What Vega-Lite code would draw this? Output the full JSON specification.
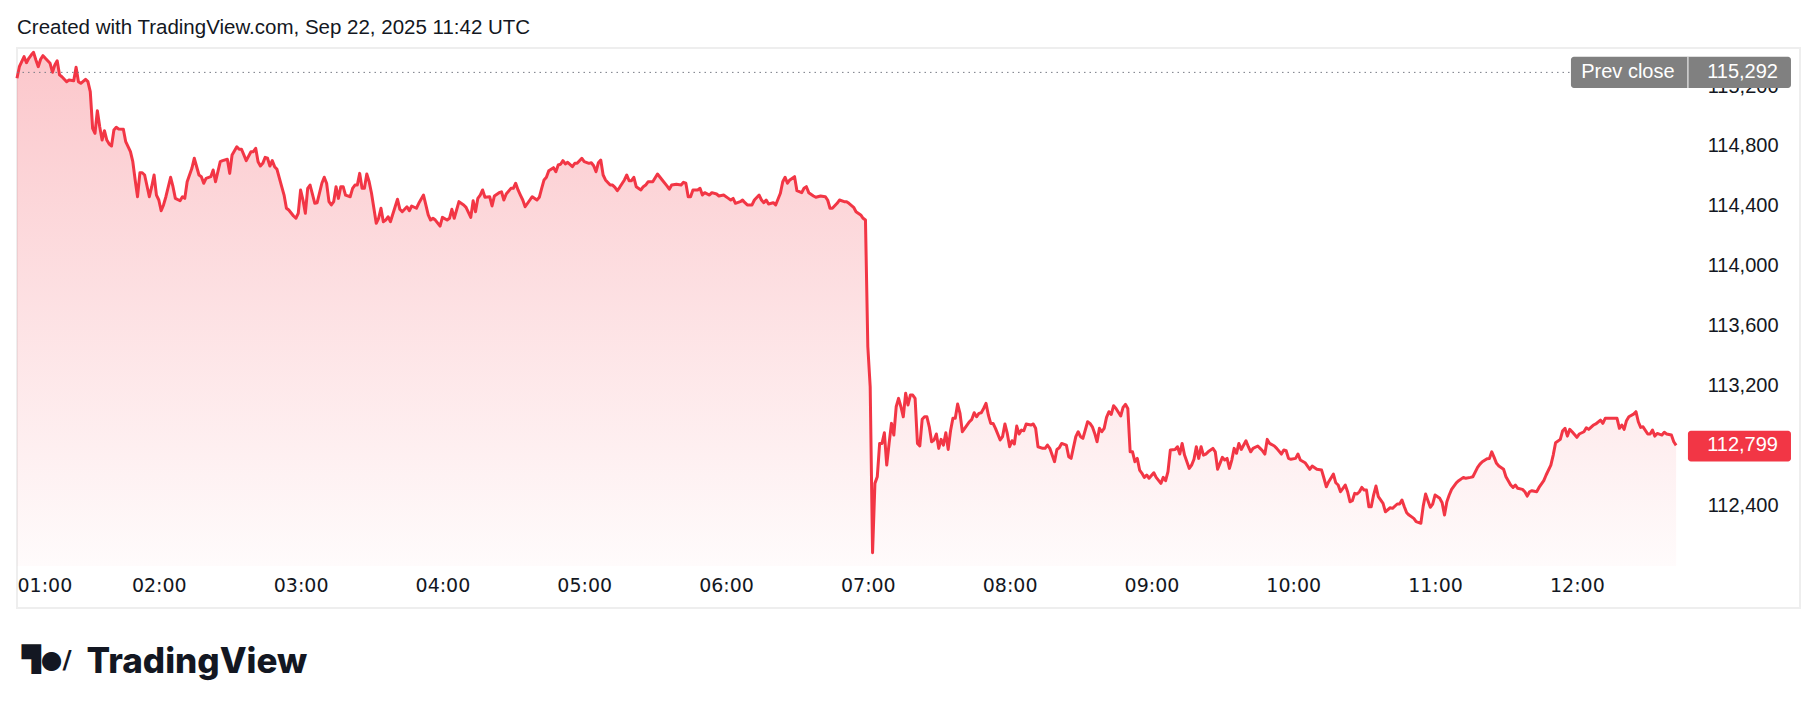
{
"$schema": "https://vega.github.io/schema/vega-lite/v6.json",
"width": 1783, "height": 560,
"autosize": {"type": "none"},
"padding": {"left": 17, "top": 48, "right": 18, "bottom": 105},
"background": "white",
"config": {"view": {"stroke": "#EEEEEE", "strokeWidth": 2}, "font": "Liberation Sans"},
"title": {"text": "Created with TradingView.com, Sep 22, 2025 11:42 UTC", "anchor": "start", "frame": "group", "font": "Liberation Sans", "fontSize": 20.5, "fontWeight": "normal", "color": "#131722", "baseline": "alphabetic", "offset": -6},
"data": {"format": {"parse": {"t": "date:'%H:%M'"}}, "values": [
{"t":"01:00","p":115253},{"t":"01:01","p":115330},{"t":"01:03","p":115397},{"t":"01:04","p":115357},{"t":"01:05","p":115386},{"t":"01:06","p":115408},{"t":"01:07","p":115426},{"t":"01:08","p":115375},{"t":"01:09","p":115330},{"t":"01:10","p":115380},{"t":"01:11","p":115404},{"t":"01:12","p":115386},{"t":"01:14","p":115353},{"t":"01:15","p":115293},{"t":"01:16","p":115341},{"t":"01:17","p":115370},{"t":"01:18","p":115275},{"t":"01:19","p":115263},{"t":"01:21","p":115230},{"t":"01:22","p":115241},{"t":"01:24","p":115236},{"t":"01:25","p":115326},{"t":"01:26","p":115230},{"t":"01:27","p":115219},{"t":"01:29","p":115246},{"t":"01:30","p":115230},{"t":"01:31","p":115163},{"t":"01:32","p":114918},{"t":"01:33","p":114885},{"t":"01:34","p":115036},{"t":"01:35","p":114929},{"t":"01:36","p":114840},{"t":"01:37","p":114902},{"t":"01:38","p":114840},{"t":"01:39","p":114813},{"t":"01:40","p":114800},{"t":"01:41","p":114907},{"t":"01:42","p":114925},{"t":"01:43","p":114914},{"t":"01:45","p":114912},{"t":"01:46","p":114829},{"t":"01:48","p":114762},{"t":"01:49","p":114695},{"t":"01:50","p":114573},{"t":"01:51","p":114461},{"t":"01:52","p":114621},{"t":"01:53","p":114621},{"t":"01:54","p":114606},{"t":"01:56","p":114461},{"t":"01:57","p":114528},{"t":"01:58","p":114606},{"t":"01:59","p":114472},
{"t":"02:00","p":114439},{"t":"02:01","p":114367},{"t":"02:02","p":114406},{"t":"02:03","p":114461},{"t":"02:05","p":114591},{"t":"02:06","p":114528},{"t":"02:07","p":114450},{"t":"02:09","p":114434},{"t":"02:10","p":114461},{"t":"02:11","p":114450},{"t":"02:12","p":114561},{"t":"02:14","p":114651},{"t":"02:15","p":114718},{"t":"02:17","p":114606},{"t":"02:18","p":114595},{"t":"02:19","p":114551},{"t":"02:20","p":114584},{"t":"02:22","p":114595},{"t":"02:23","p":114640},{"t":"02:24","p":114561},{"t":"02:26","p":114695},{"t":"02:27","p":114702},{"t":"02:29","p":114711},{"t":"02:30","p":114617},{"t":"02:31","p":114740},{"t":"02:33","p":114795},{"t":"02:34","p":114778},{"t":"02:35","p":114778},{"t":"02:37","p":114702},{"t":"02:39","p":114762},{"t":"02:40","p":114762},{"t":"02:41","p":114785},{"t":"02:42","p":114695},{"t":"02:43","p":114666},{"t":"02:44","p":114684},{"t":"02:45","p":114724},{"t":"02:46","p":114718},{"t":"02:47","p":114666},{"t":"02:48","p":114702},{"t":"02:49","p":114662},{"t":"02:50","p":114644},{"t":"02:52","p":114528},{"t":"02:53","p":114472},{"t":"02:54","p":114384},{"t":"02:55","p":114372},{"t":"02:57","p":114332},{"t":"02:58","p":114317},{"t":"02:59","p":114350},
{"t":"03:00","p":114506},{"t":"03:01","p":114439},{"t":"03:02","p":114350},{"t":"03:03","p":114517},{"t":"03:04","p":114539},{"t":"03:05","p":114479},{"t":"03:06","p":114417},{"t":"03:07","p":114421},{"t":"03:09","p":114551},{"t":"03:10","p":114591},{"t":"03:11","p":114551},{"t":"03:12","p":114428},{"t":"03:13","p":114406},{"t":"03:14","p":114428},{"t":"03:15","p":114528},{"t":"03:16","p":114450},{"t":"03:17","p":114528},{"t":"03:18","p":114528},{"t":"03:19","p":114472},{"t":"03:21","p":114461},{"t":"03:22","p":114517},{"t":"03:23","p":114539},{"t":"03:24","p":114539},{"t":"03:25","p":114617},{"t":"03:26","p":114517},{"t":"03:27","p":114517},{"t":"03:28","p":114613},{"t":"03:29","p":114561},{"t":"03:30","p":114484},{"t":"03:31","p":114384},{"t":"03:32","p":114283},{"t":"03:33","p":114317},{"t":"03:34","p":114384},{"t":"03:35","p":114294},{"t":"03:36","p":114305},{"t":"03:37","p":114327},{"t":"03:38","p":114294},{"t":"03:40","p":114394},{"t":"03:41","p":114444},{"t":"03:42","p":114377},{"t":"03:43","p":114361},{"t":"03:45","p":114394},{"t":"03:46","p":114367},{"t":"03:47","p":114399},{"t":"03:49","p":114384},{"t":"03:50","p":114417},{"t":"03:52","p":114472},{"t":"03:54","p":114339},{"t":"03:55","p":114305},{"t":"03:56","p":114317},{"t":"03:57","p":114305},{"t":"03:59","p":114265},
{"t":"04:00","p":114323},{"t":"04:02","p":114305},{"t":"04:03","p":114317},{"t":"04:04","p":114377},{"t":"04:05","p":114317},{"t":"04:06","p":114372},{"t":"04:07","p":114428},{"t":"04:09","p":114406},{"t":"04:10","p":114390},{"t":"04:12","p":114323},{"t":"04:13","p":114434},{"t":"04:14","p":114361},{"t":"04:15","p":114450},{"t":"04:16","p":114472},{"t":"04:17","p":114506},{"t":"04:18","p":114457},{"t":"04:20","p":114461},{"t":"04:21","p":114399},{"t":"04:22","p":114466},{"t":"04:24","p":114488},{"t":"04:25","p":114494},{"t":"04:26","p":114439},{"t":"04:27","p":114479},{"t":"04:29","p":114517},{"t":"04:30","p":114517},{"t":"04:31","p":114551},{"t":"04:32","p":114506},{"t":"04:33","p":114472},{"t":"04:34","p":114439},{"t":"04:35","p":114394},{"t":"04:37","p":114439},{"t":"04:38","p":114461},{"t":"04:40","p":114439},{"t":"04:41","p":114457},{"t":"04:42","p":114517},{"t":"04:43","p":114573},{"t":"04:44","p":114591},{"t":"04:45","p":114635},{"t":"04:47","p":114655},{"t":"04:48","p":114628},{"t":"04:49","p":114673},{"t":"04:50","p":114678},{"t":"04:51","p":114702},{"t":"04:52","p":114680},{"t":"04:53","p":114691},{"t":"04:55","p":114662},{"t":"04:56","p":114684},{"t":"04:57","p":114684},{"t":"04:59","p":114718},
{"t":"05:00","p":114695},{"t":"05:02","p":114684},{"t":"05:03","p":114688},{"t":"05:04","p":114668},{"t":"05:05","p":114628},{"t":"05:06","p":114688},{"t":"05:07","p":114706},{"t":"05:08","p":114606},{"t":"05:09","p":114573},{"t":"05:11","p":114539},{"t":"05:12","p":114539},{"t":"05:13","p":114524},{"t":"05:14","p":114501},{"t":"05:15","p":114524},{"t":"05:17","p":114573},{"t":"05:18","p":114606},{"t":"05:19","p":114568},{"t":"05:20","p":114568},{"t":"05:21","p":114591},{"t":"05:22","p":114528},{"t":"05:24","p":114506},{"t":"05:25","p":114528},{"t":"05:26","p":114539},{"t":"05:27","p":114561},{"t":"05:29","p":114561},{"t":"05:31","p":114613},{"t":"05:33","p":114573},{"t":"05:35","p":114533},{"t":"05:36","p":114511},{"t":"05:37","p":114539},{"t":"05:39","p":114544},{"t":"05:41","p":114539},{"t":"05:42","p":114557},{"t":"05:43","p":114551},{"t":"05:44","p":114461},{"t":"05:45","p":114461},{"t":"05:46","p":114506},{"t":"05:48","p":114506},{"t":"05:49","p":114517},{"t":"05:50","p":114472},{"t":"05:51","p":114488},{"t":"05:53","p":114472},{"t":"05:54","p":114488},{"t":"05:56","p":114479},{"t":"05:57","p":114466},{"t":"05:59","p":114472},
{"t":"06:01","p":114450},{"t":"06:02","p":114439},{"t":"06:03","p":114450},{"t":"06:04","p":114417},{"t":"06:06","p":114428},{"t":"06:07","p":114439},{"t":"06:08","p":114421},{"t":"06:09","p":114406},{"t":"06:11","p":114406},{"t":"06:12","p":114439},{"t":"06:14","p":114472},{"t":"06:15","p":114439},{"t":"06:16","p":114421},{"t":"06:17","p":114439},{"t":"06:18","p":114412},{"t":"06:20","p":114421},{"t":"06:21","p":114406},{"t":"06:23","p":114484},{"t":"06:24","p":114561},{"t":"06:25","p":114591},{"t":"06:26","p":114551},{"t":"06:27","p":114573},{"t":"06:29","p":114595},{"t":"06:30","p":114501},{"t":"06:32","p":114488},{"t":"06:33","p":114517},{"t":"06:34","p":114528},{"t":"06:35","p":114488},{"t":"06:37","p":114466},{"t":"06:38","p":114457},{"t":"06:40","p":114466},{"t":"06:42","p":114461},{"t":"06:43","p":114439},{"t":"06:44","p":114384},{"t":"06:45","p":114384},{"t":"06:47","p":114417},{"t":"06:48","p":114439},{"t":"06:50","p":114428},{"t":"06:51","p":114428},{"t":"06:52","p":114417},{"t":"06:54","p":114390},{"t":"06:55","p":114361},{"t":"06:57","p":114339},{"t":"06:58","p":114317},{"t":"06:59","p":114305},
{"t":"07:00","p":113458},{"t":"07:01","p":113190},{"t":"07:02","p":112081},{"t":"07:03","p":112545},{"t":"07:04","p":112589},{"t":"07:05","p":112812},{"t":"07:06","p":112812},{"t":"07:07","p":112883},{"t":"07:08","p":112667},{"t":"07:09","p":112812},{"t":"07:10","p":112946},{"t":"07:11","p":112868},{"t":"07:12","p":113057},{"t":"07:13","p":113113},{"t":"07:14","p":113057},{"t":"07:15","p":112990},{"t":"07:16","p":113147},{"t":"07:17","p":113069},{"t":"07:18","p":113135},{"t":"07:19","p":113135},{"t":"07:20","p":113113},{"t":"07:21","p":112812},{"t":"07:22","p":112795},{"t":"07:23","p":112973},{"t":"07:24","p":112990},{"t":"07:25","p":112990},{"t":"07:26","p":112923},{"t":"07:27","p":112823},{"t":"07:28","p":112835},{"t":"07:29","p":112875},{"t":"07:30","p":112779},{"t":"07:31","p":112839},{"t":"07:32","p":112801},{"t":"07:33","p":112883},{"t":"07:34","p":112772},{"t":"07:35","p":112897},{"t":"07:36","p":112980},{"t":"07:37","p":112980},{"t":"07:38","p":113075},{"t":"07:39","p":113013},{"t":"07:40","p":112890},{"t":"07:41","p":112913},{"t":"07:43","p":112957},{"t":"07:44","p":112973},{"t":"07:45","p":113017},{"t":"07:46","p":112990},{"t":"07:47","p":113013},{"t":"07:48","p":113017},{"t":"07:49","p":113046},{"t":"07:50","p":113080},{"t":"07:51","p":113002},{"t":"07:52","p":112946},{"t":"07:53","p":112946},{"t":"07:54","p":112913},{"t":"07:56","p":112835},{"t":"07:57","p":112857},{"t":"07:58","p":112942},{"t":"07:59","p":112879},
{"t":"08:00","p":112790},{"t":"08:01","p":112830},{"t":"08:02","p":112808},{"t":"08:03","p":112928},{"t":"08:04","p":112875},{"t":"08:05","p":112901},{"t":"08:06","p":112897},{"t":"08:07","p":112942},{"t":"08:09","p":112935},{"t":"08:10","p":112942},{"t":"08:11","p":112913},{"t":"08:12","p":112790},{"t":"08:14","p":112779},{"t":"08:15","p":112779},{"t":"08:16","p":112801},{"t":"08:17","p":112779},{"t":"08:18","p":112734},{"t":"08:19","p":112690},{"t":"08:20","p":112772},{"t":"08:21","p":112783},{"t":"08:22","p":112812},{"t":"08:24","p":112801},{"t":"08:25","p":112723},{"t":"08:26","p":112712},{"t":"08:28","p":112857},{"t":"08:29","p":112890},{"t":"08:30","p":112857},{"t":"08:31","p":112846},{"t":"08:33","p":112957},{"t":"08:34","p":112946},{"t":"08:35","p":112923},{"t":"08:36","p":112879},{"t":"08:37","p":112823},{"t":"08:38","p":112913},{"t":"08:39","p":112890},{"t":"08:40","p":112913},{"t":"08:41","p":112986},{"t":"08:42","p":113024},{"t":"08:43","p":113006},{"t":"08:44","p":113064},{"t":"08:45","p":113046},{"t":"08:47","p":112995},{"t":"08:48","p":113053},{"t":"08:49","p":113073},{"t":"08:50","p":113046},{"t":"08:51","p":112756},{"t":"08:52","p":112756},{"t":"08:53","p":112690},{"t":"08:54","p":112712},{"t":"08:55","p":112634},{"t":"08:56","p":112612},{"t":"08:57","p":112585},{"t":"08:58","p":112601},{"t":"08:59","p":112579},
{"t":"09:01","p":112616},{"t":"09:02","p":112585},{"t":"09:04","p":112545},{"t":"09:05","p":112585},{"t":"09:06","p":112563},{"t":"09:07","p":112623},{"t":"09:08","p":112768},{"t":"09:10","p":112772},{"t":"09:11","p":112790},{"t":"09:12","p":112741},{"t":"09:13","p":112812},{"t":"09:14","p":112734},{"t":"09:16","p":112645},{"t":"09:17","p":112667},{"t":"09:18","p":112706},{"t":"09:19","p":112790},{"t":"09:20","p":112712},{"t":"09:21","p":112790},{"t":"09:22","p":112734},{"t":"09:23","p":112741},{"t":"09:24","p":112756},{"t":"09:26","p":112779},{"t":"09:27","p":112756},{"t":"09:28","p":112639},{"t":"09:29","p":112679},{"t":"09:30","p":112719},{"t":"09:31","p":112701},{"t":"09:32","p":112712},{"t":"09:33","p":112645},{"t":"09:34","p":112701},{"t":"09:35","p":112779},{"t":"09:36","p":112746},{"t":"09:37","p":112812},{"t":"09:38","p":112772},{"t":"09:40","p":112830},{"t":"09:41","p":112790},{"t":"09:42","p":112756},{"t":"09:43","p":112779},{"t":"09:45","p":112795},{"t":"09:46","p":112779},{"t":"09:47","p":112763},{"t":"09:48","p":112741},{"t":"09:49","p":112839},{"t":"09:50","p":112812},{"t":"09:52","p":112795},{"t":"09:53","p":112779},{"t":"09:55","p":112741},{"t":"09:56","p":112768},{"t":"09:57","p":112763},{"t":"09:58","p":112712},{"t":"09:59","p":112706},
{"t":"10:01","p":112712},{"t":"10:02","p":112741},{"t":"10:03","p":112701},{"t":"10:05","p":112683},{"t":"10:07","p":112639},{"t":"10:08","p":112661},{"t":"10:10","p":112639},{"t":"10:12","p":112634},{"t":"10:13","p":112579},{"t":"10:14","p":112522},{"t":"10:15","p":112556},{"t":"10:17","p":112607},{"t":"10:18","p":112549},{"t":"10:19","p":112534},{"t":"10:20","p":112489},{"t":"10:22","p":112534},{"t":"10:23","p":112489},{"t":"10:24","p":112422},{"t":"10:25","p":112429},{"t":"10:26","p":112478},{"t":"10:27","p":112474},{"t":"10:28","p":112489},{"t":"10:29","p":112518},{"t":"10:30","p":112500},{"t":"10:31","p":112500},{"t":"10:32","p":112389},{"t":"10:33","p":112389},{"t":"10:34","p":112467},{"t":"10:35","p":112527},{"t":"10:36","p":112456},{"t":"10:38","p":112411},{"t":"10:39","p":112355},{"t":"10:41","p":112382},{"t":"10:42","p":112378},{"t":"10:44","p":112407},{"t":"10:45","p":112407},{"t":"10:46","p":112434},{"t":"10:47","p":112389},{"t":"10:48","p":112349},{"t":"10:49","p":112333},{"t":"10:51","p":112311},{"t":"10:52","p":112289},{"t":"10:54","p":112278},{"t":"10:55","p":112393},{"t":"10:56","p":112474},{"t":"10:57","p":112429},{"t":"10:58","p":112385},{"t":"10:59","p":112407},
{"t":"11:00","p":112467},{"t":"11:02","p":112445},{"t":"11:03","p":112415},{"t":"11:04","p":112333},{"t":"11:05","p":112422},{"t":"11:06","p":112467},{"t":"11:07","p":112505},{"t":"11:09","p":112549},{"t":"11:10","p":112563},{"t":"11:12","p":112585},{"t":"11:13","p":112579},{"t":"11:15","p":112585},{"t":"11:16","p":112589},{"t":"11:18","p":112652},{"t":"11:19","p":112674},{"t":"11:20","p":112690},{"t":"11:22","p":112710},{"t":"11:23","p":112712},{"t":"11:24","p":112756},{"t":"11:25","p":112719},{"t":"11:26","p":112679},{"t":"11:27","p":112661},{"t":"11:29","p":112639},{"t":"11:30","p":112589},{"t":"11:32","p":112534},{"t":"11:33","p":112518},{"t":"11:34","p":112534},{"t":"11:35","p":112512},{"t":"11:37","p":112505},{"t":"11:38","p":112489},{"t":"11:39","p":112460},{"t":"11:40","p":112489},{"t":"11:41","p":112496},{"t":"11:43","p":112489},{"t":"11:44","p":112518},{"t":"11:46","p":112563},{"t":"11:47","p":112601},{"t":"11:49","p":112667},{"t":"11:50","p":112734},{"t":"11:51","p":112816},{"t":"11:53","p":112839},{"t":"11:54","p":112897},{"t":"11:55","p":112913},{"t":"11:56","p":112861},{"t":"11:57","p":112906},{"t":"11:58","p":112890},
{"t":"12:00","p":112853},{"t":"12:01","p":112875},{"t":"12:03","p":112890},{"t":"12:04","p":112917},{"t":"12:05","p":112906},{"t":"12:07","p":112935},{"t":"12:08","p":112942},{"t":"12:10","p":112968},{"t":"12:11","p":112946},{"t":"12:12","p":112980},{"t":"12:14","p":112980},{"t":"12:17","p":112980},{"t":"12:18","p":112913},{"t":"12:19","p":112935},{"t":"12:20","p":112906},{"t":"12:21","p":112964},{"t":"12:22","p":112990},{"t":"12:24","p":113008},{"t":"12:25","p":113024},{"t":"12:26","p":112957},{"t":"12:27","p":112919},{"t":"12:28","p":112923},{"t":"12:30","p":112875},{"t":"12:31","p":112875},{"t":"12:32","p":112901},{"t":"12:33","p":112861},{"t":"12:34","p":112879},{"t":"12:36","p":112868},{"t":"12:37","p":112886},{"t":"12:38","p":112875},{"t":"12:40","p":112868},{"t":"12:41","p":112823},{"t":"12:42","p":112799}
]},
"layer": [
{"mark": {"type": "area", "line": false, "color": {"gradient": "linear", "x1": 0, "y1": 0, "x2": 0, "y2": 1, "stops": [{"offset": 0, "color": "rgba(242,54,69,0.28)"}, {"offset": 1, "color": "rgba(242,54,69,0.02)"}]}},
 "encoding": {
  "x": {"field": "t", "type": "temporal",
   "scale": {"domain": [{"year": 1900, "month": 1, "date": 1, "hours": 1, "minutes": 0}, {"year": 1900, "month": 1, "date": 1, "hours": 13, "minutes": 34, "seconds": 25}]},
   "axis": {"values": [
     {"year": 1900, "month": 1, "date": 1, "hours": 1}, {"year": 1900, "month": 1, "date": 1, "hours": 2}, {"year": 1900, "month": 1, "date": 1, "hours": 3}, {"year": 1900, "month": 1, "date": 1, "hours": 4}, {"year": 1900, "month": 1, "date": 1, "hours": 5}, {"year": 1900, "month": 1, "date": 1, "hours": 6}, {"year": 1900, "month": 1, "date": 1, "hours": 7}, {"year": 1900, "month": 1, "date": 1, "hours": 8}, {"year": 1900, "month": 1, "date": 1, "hours": 9}, {"year": 1900, "month": 1, "date": 1, "hours": 10}, {"year": 1900, "month": 1, "date": 1, "hours": 11}, {"year": 1900, "month": 1, "date": 1, "hours": 12}],
     "format": "%H:%M", "labelFlush": true, "labelFont": "DejaVu Sans", "labelFontSize": 19, "labelColor": "#131722", "ticks": false, "tickSize": 0, "domain": false, "grid": false, "offset": -42, "labelPadding": 10, "labelBaseline": "top", "labelOverlap": false,
     "title": "TradingView", "titleFont": "Inter", "titleFontSize": 35, "titleFontWeight": 800, "titleColor": "#131722", "titleAnchor": "start", "titleAlign": "left", "titleX": 69, "titleY": 106, "titleBaseline": "alphabetic"}},
  "y": {"field": "p", "type": "quantitative",
   "scale": {"domain": [111712, 115455], "nice": false, "zero": false},
   "axis": {"orient": "right", "values": [112400, 112800, 113200, 113600, 114000, 114400, 114800, 115200], "format": ",.0f", "labelFont": "Liberation Sans", "labelFontSize": 20, "labelColor": "#131722", "ticks": false, "tickSize": 0, "domain": false, "grid": false, "offset": -22, "labelAlign": "right", "labelPadding": 0, "labelBaseline": "middle", "labelOverlap": false,
     "title": "▜●/", "titleFont": "DejaVu Sans", "titleFontSize": 25, "titleFontWeight": "bold", "titleColor": "#131722", "titleAngle": 0, "titleAlign": "left", "titleBaseline": "alphabetic", "titleX": -1757, "titleY": 619}},
  "y2": {"datum": 111992}
 }},
{"mark": {"type": "line", "color": "#F23645", "strokeWidth": 3, "strokeJoin": "round"},
 "encoding": {"x": {"field": "t", "type": "temporal"}, "y": {"field": "p", "type": "quantitative"}}},
{"data": {"values": [{}]},
 "mark": {"type": "rule", "color": "#787B86", "strokeWidth": 1, "strokeDash": [1.5, 4]},
 "encoding": {"x": {"datum": {"year": 1900, "month": 1, "date": 1, "hours": 1, "minutes": 0}, "type": "temporal"}, "x2": {"datum": {"year": 1900, "month": 1, "date": 1, "hours": 11, "minutes": 57, "seconds": 30}}, "y": {"datum": 115292, "type": "quantitative"}}},
{"data": {"values": [{}]},
 "mark": {"type": "rect", "color": "#808080", "cornerRadius": 3},
 "encoding": {"x": {"datum": {"year": 1900, "month": 1, "date": 1, "hours": 11, "minutes": 57, "seconds": 30}, "type": "temporal"}, "x2": {"datum": {"year": 1900, "month": 1, "date": 1, "hours": 13, "minutes": 30, "seconds": 36}}, "y": {"datum": 115396, "type": "quantitative"}, "y2": {"datum": 115187}}},
{"data": {"values": [{}]},
 "mark": {"type": "rule", "color": "#FFFFFF", "strokeWidth": 1},
 "encoding": {"x": {"datum": {"year": 1900, "month": 1, "date": 1, "hours": 12, "minutes": 47, "seconds": 0}, "type": "temporal"}, "y": {"datum": 115396, "type": "quantitative"}, "y2": {"datum": 115187}}},
{"data": {"values": [{}]},
 "mark": {"type": "rect", "color": "#F23645", "cornerRadius": 3},
 "encoding": {"x": {"datum": {"year": 1900, "month": 1, "date": 1, "hours": 12, "minutes": 47, "seconds": 0}, "type": "temporal"}, "x2": {"datum": {"year": 1900, "month": 1, "date": 1, "hours": 13, "minutes": 30, "seconds": 36}}, "y": {"datum": 112897, "type": "quantitative"}, "y2": {"datum": 112692}}},
{"data": {"values": [{}]},
 "mark": {"type": "text", "text": "Prev close", "color": "#FFFFFF", "font": "Liberation Sans", "fontSize": 20, "align": "center", "baseline": "middle"},
 "encoding": {"x": {"datum": {"year": 1900, "month": 1, "date": 1, "hours": 12, "minutes": 21, "seconds": 36}, "type": "temporal"}, "y": {"datum": 115292, "type": "quantitative"}}},
{"data": {"values": [{}]},
 "mark": {"type": "text", "text": "115,292", "color": "#FFFFFF", "font": "Liberation Sans", "fontSize": 20, "align": "right", "baseline": "middle"},
 "encoding": {"x": {"datum": {"year": 1900, "month": 1, "date": 1, "hours": 13, "minutes": 25, "seconds": 6}, "type": "temporal"}, "y": {"datum": 115292, "type": "quantitative"}}},
{"data": {"values": [{}]},
 "mark": {"type": "text", "text": "112,799", "color": "#FFFFFF", "font": "Liberation Sans", "fontSize": 20, "align": "right", "baseline": "middle"},
 "encoding": {"x": {"datum": {"year": 1900, "month": 1, "date": 1, "hours": 13, "minutes": 25, "seconds": 6}, "type": "temporal"}, "y": {"datum": 112799, "type": "quantitative"}}}
]
}
